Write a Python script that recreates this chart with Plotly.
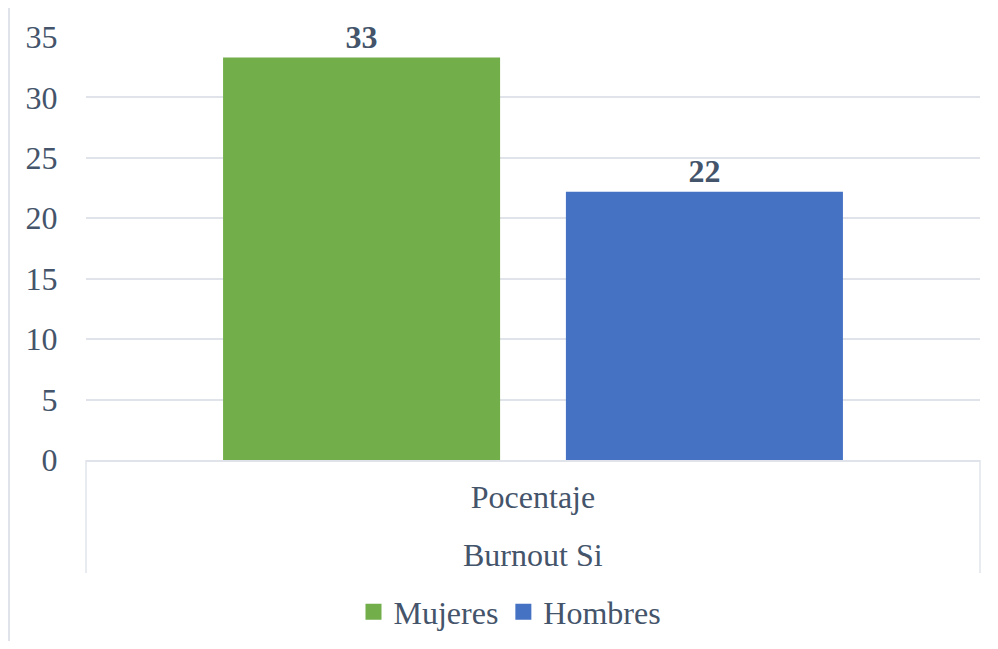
import plotly.graph_objects as go

categories = ["Pocentaje"]
group_label = "Burnout Si"
series_names = ["Mujeres", "Hombres"]
mujeres = [33.3]
hombres = [22.2]
label_mujeres = ["33"]
label_hombres = ["22"]
y_ticks = [0, 5, 10, 15, 20, 25, 30, 35]

# page body has an 8px margin: figure coords = screen coords - 8
OFF = 8
W, H = 982, 633
L, T = 86 - OFF, 37 - OFF
R = W - (980 - OFF)
B = H - (460 - OFF)
plot_w = W - L - R
plot_h = H - T - B

def px_x(px):
    return (px - OFF - L) / plot_w

def px_y(py):
    return (H - B - (py - OFF)) / plot_h

FONT = "Liberation Serif, Times New Roman, serif"
TXT = "#44546A"
GRID = "#E0E4EA"
COLORS = ["#72AE4A", "#4672C4"]
FS = 32

fig = go.Figure()
for name, vals, labels, col in [(series_names[0], mujeres, label_mujeres, COLORS[0]),
                                (series_names[1], hombres, label_hombres, COLORS[1])]:
    fig.add_trace(go.Bar(
        name=name, x=categories, y=vals, text=labels,
        textposition="outside", cliponaxis=False, showlegend=False,
        textfont=dict(family=FONT, size=FS, color=TXT, weight="bold"),
        marker=dict(color=col, line=dict(width=0)),
    ))
# legend entries (square keys)
for name, col in zip(series_names, COLORS):
    fig.add_trace(go.Scatter(
        name=name, x=[None], y=[None], mode="markers",
        marker=dict(symbol="square", size=16, color=col), showlegend=True,
    ))

shapes = [
    dict(type="rect", xref="paper", yref="paper",
         x0=px_x(9), x1=px_x(1010), y0=px_y(660), y1=px_y(7),
         line=dict(color=GRID, width=2), fillcolor="rgba(0,0,0,0)", layer="below"),
    dict(type="line", xref="paper", yref="paper", x0=0, x1=0,
         y0=0, y1=px_y(573), line=dict(color=GRID, width=1.5)),
    dict(type="line", xref="paper", yref="paper", x0=1, x1=1,
         y0=0, y1=px_y(573), line=dict(color=GRID, width=1.5)),
]

fig.update_layout(
    width=W, height=H,
    margin=dict(l=L, r=R, t=T, b=B, autoexpand=False),
    paper_bgcolor="white", plot_bgcolor="white",
    barmode="group", bargap=0.233, bargroupgap=0.192,
    font=dict(family=FONT, color=TXT, size=FS),
    showlegend=True,
    legend=dict(orientation="h", x=px_x(510), xanchor="center", y=px_y(612), yanchor="middle",
                font=dict(family=FONT, size=FS, color=TXT), itemsizing="trace",
                traceorder="normal", bgcolor="rgba(0,0,0,0)"),
    shapes=shapes,
    annotations=[dict(text=group_label, xref="paper", yref="paper", x=0.5, y=px_y(555),
                      xanchor="center", yanchor="middle", showarrow=False,
                      font=dict(family=FONT, size=FS, color=TXT))],
)
fig.update_xaxes(
    showgrid=False, showline=True, linecolor=GRID, linewidth=1.5,
    ticks="outside", ticklen=8, tickcolor="rgba(0,0,0,0)",
    tickfont=dict(family=FONT, size=FS, color=TXT),
)
fig.update_yaxes(
    range=[0, 35], tickvals=y_ticks, showgrid=True, gridcolor=GRID, gridwidth=1.5,
    zeroline=False, showline=False,
    ticks="outside", ticklen=21, tickcolor="rgba(0,0,0,0)",
    tickfont=dict(family=FONT, size=FS, color=TXT),
)

fig.write_html("out.html")
